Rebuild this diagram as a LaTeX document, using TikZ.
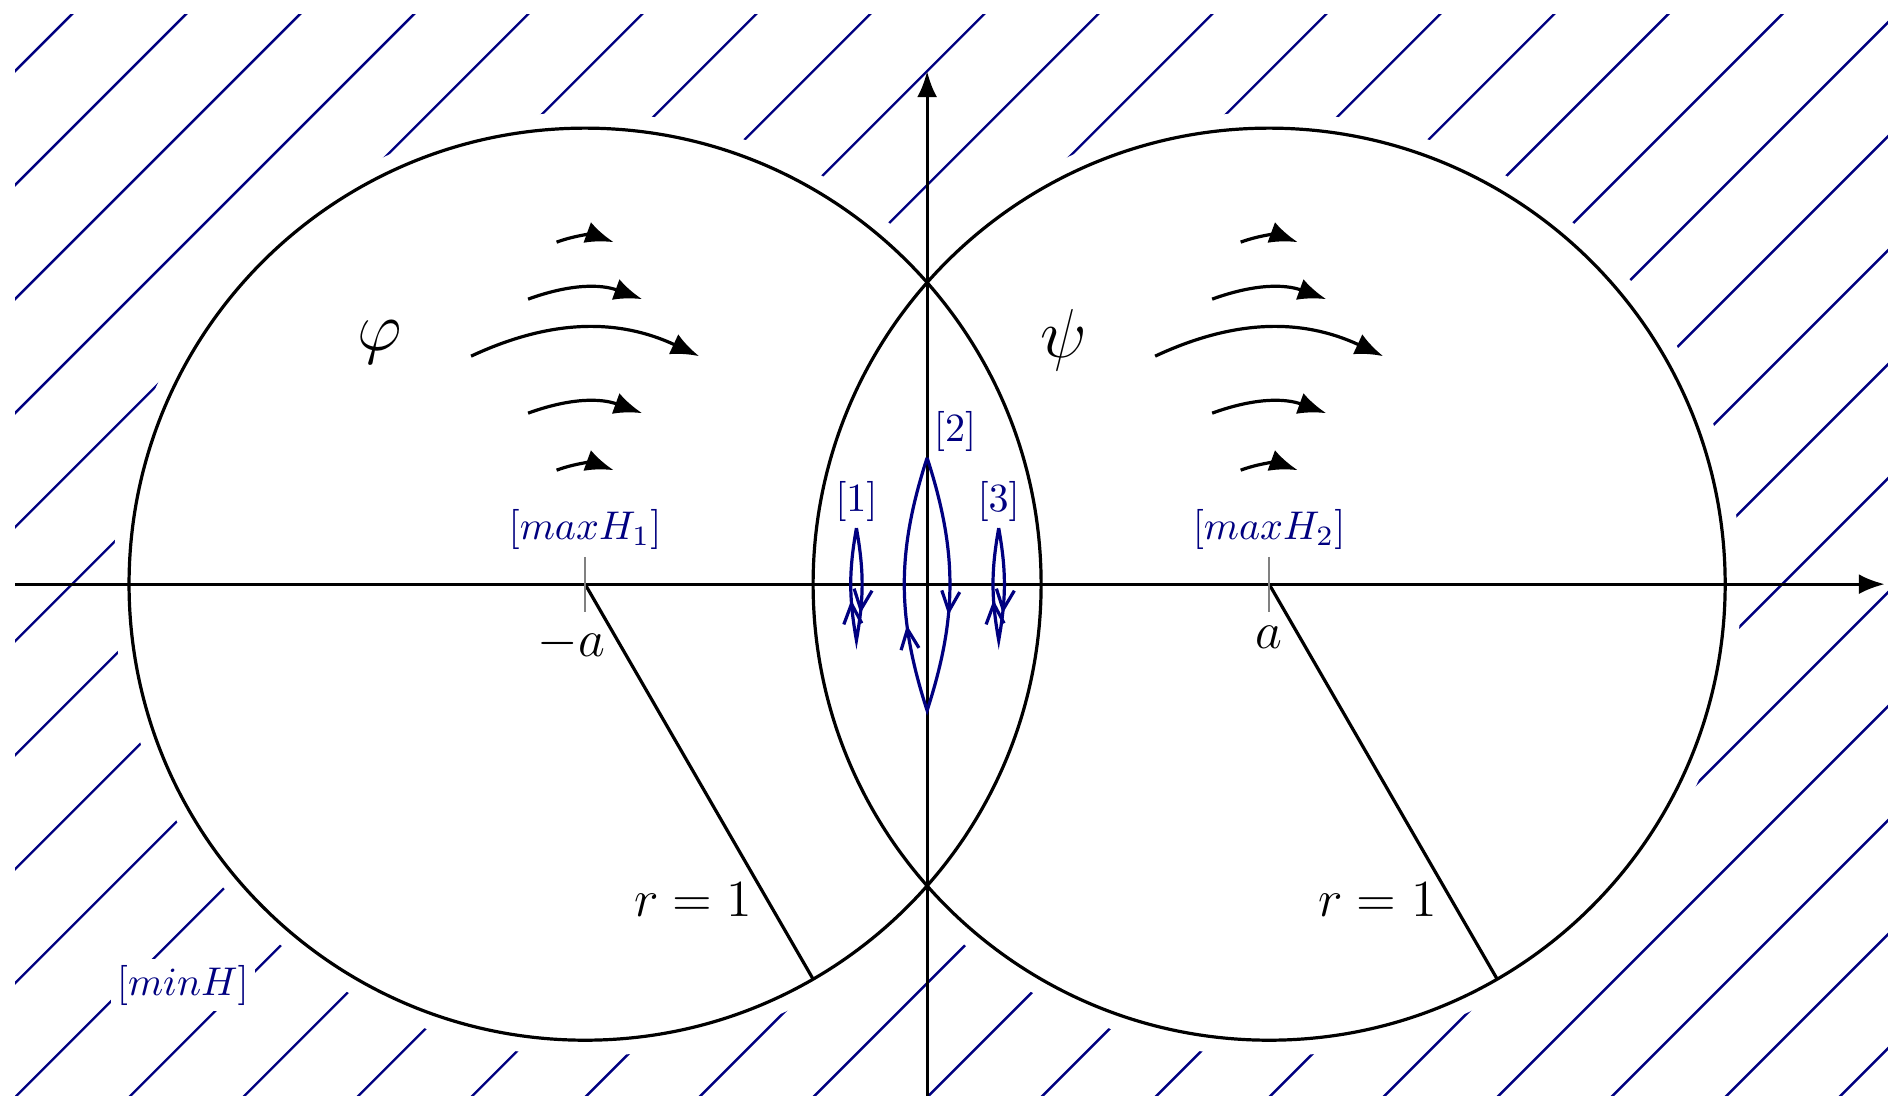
\RequirePackage{fix-cm}
\documentclass[tikz,border=0pt]{standalone}
\usepackage{xcolor}
\usepackage{amsmath}
\usepackage{tikz}
\usetikzlibrary{positioning,arrows.meta,decorations.markings}

\definecolor{navy}{rgb}{0,0,0.5}

\begin{document}
\begin{tikzpicture}[x=4cm, y=4cm,
  axis/.style={line width=0.8pt, -{Latex[length=6.5pt,width=5pt]}},
  circ/.style={line width=0.8pt},
  hatch/.style={navy, line width=0.6pt},
  flow/.style={line width=0.8pt, -{Latex[length=7pt,width=5.5pt]}},
  tickmark/.style={gray, line width=0.4pt},
  bluelabel/.style={navy, inner sep=1.5pt},
  axlabel/.style={font=\fontsize{13}{16}\selectfont},
  potlabel/.style={font=\LARGE},
  orbit/.style 2 args={navy, line width=0.8pt, postaction={decorate},
    decoration={markings,
      mark=at position #1 with {\arrow{Straight Barb[length=5pt,width=4.5pt]}},
      mark=at position #2 with {\arrow{Straight Barb[length=5pt,width=4.5pt]}}}},
]
\useasboundingbox (-2.033,-1.121) rectangle (2.107,1.281);
\clip (-2.033,-1.121) rectangle (2.107,1.281);

% Hatching outside the two discs
\begin{scope}
  \clip (-2,-1.3) rectangle (2.2,1.25);
  \foreach \c in {-3.375,-3.125,...,3.375}
    \draw[hatch] (-2.6,-2.6+\c) -- (2.6,2.6+\c);
\end{scope}
\fill[white] (-0.75,0) circle (1.035) (0.75,0) circle (1.035);
\node[bluelabel, fill=white] (minH) at (-1.632,-0.879) {$[minH]$};

% Centres
\coordinate (cL) at (-0.75,0);
\coordinate (cR) at (0.75,0);

% Axes
\coordinate (xs) at (-2,0);
\coordinate (xe) at (2.1,0);
\coordinate (ys) at (0,-1.3);
\coordinate (ye) at (0,1.125);
\draw[axis] (xs) -- (xe);
\draw[axis] (ys) -- (ye);

% Discs and radii
\draw[circ] (cL) circle (1);
\draw[circ] (cR) circle (1);
\draw[circ] (cL) -- ++(-60:1) node[axlabel, pos=0.8, left] (rL) {$r=1$};
\draw[circ] (cR) -- ++(-60:1) node[axlabel, pos=0.8, left] (rR) {$r=1$};

% Ticks at -a and a
\draw[tickmark] (-0.75,0.06) coordinate (tL) -- (-0.75,-0.06) coordinate (bL);
\draw[tickmark] (0.75,0.06) coordinate (tR) -- (0.75,-0.06) coordinate (bR);
\node[bluelabel, above=0pt of tL] (maxH1) {$[maxH_1]$};
\node[bluelabel, above=0pt of tR] (maxH2) {$[maxH_2]$};
\node[axlabel, below=0pt of bL, xshift=-1.2mm] (ma) {$-a$};
\node[axlabel, below=0pt of bR] (pa) {$a$};

% Flow in the left disc
\draw[flow] (-0.8125,0.75) to[bend left=20] (-0.6875,0.75);
\draw[flow] (-0.875,0.625) to[bend left=20] (-0.625,0.625);
\draw[flow] (-1,0.5) to[bend left=25] (-0.5,0.5);
\draw[flow] (-0.875,0.375) to[bend left=20] (-0.625,0.375);
\draw[flow] (-0.8125,0.25) to[bend left=20] (-0.6875,0.25);
\node[potlabel] (phi) at (-1.2,0.53) {$\varphi$};

% Flow in the right disc
\draw[flow] (0.6875,0.75) to[bend left=20] (0.8125,0.75);
\draw[flow] (0.625,0.625) to[bend left=20] (0.875,0.625);
\draw[flow] (0.5,0.5) to[bend left=25] (1,0.5);
\draw[flow] (0.625,0.375) to[bend left=20] (0.875,0.375);
\draw[flow] (0.6875,0.25) to[bend left=20] (0.8125,0.25);
\node[potlabel] (psi) at (0.3,0.535) {$\psi$};

% Orbits in the lens
\coordinate (o1t) at (-0.155,0.123);
\coordinate (o1b) at (-0.155,-0.123);
\draw[orbit={0.38}{0.68}] (o1t) to[bend left=10] (o1b) to[bend left=10] (o1t);
\node[bluelabel, above=0pt of o1t] (n1) {$[1]$};

\coordinate (o2t) at (0,0.277);
\coordinate (o2b) at (0,-0.277);
\draw[orbit={0.31}{0.67}] (o2t) to[bend left=18] (o2b) to[bend left=18] (o2t);
\node[bluelabel, above right=0pt of o2t] (n2) {$[2]$};

\coordinate (o3t) at (0.157,0.123);
\coordinate (o3b) at (0.157,-0.123);
\draw[orbit={0.38}{0.68}] (o3t) to[bend left=10] (o3b) to[bend left=10] (o3t);
\node[bluelabel, above=0pt of o3t] (n3) {$[3]$};

\end{tikzpicture}
\end{document}
